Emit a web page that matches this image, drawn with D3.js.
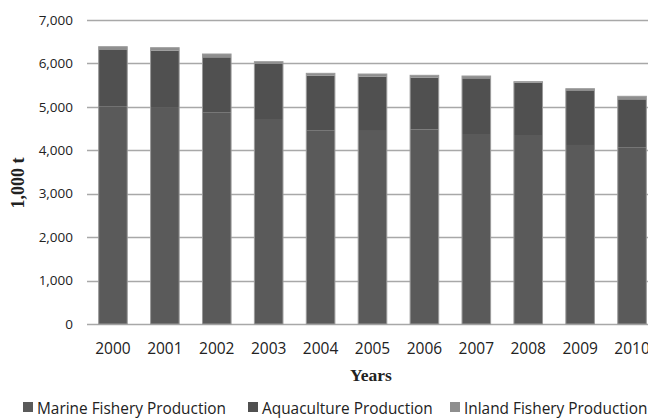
<!DOCTYPE html>
<html><head><meta charset="utf-8">
<script src="https://cdn.jsdelivr.net/npm/d3@7"></script>
<style>html,body{margin:0;padding:0;background:#fff;overflow:hidden}</style>
</head><body>
<svg id="c" width="648" height="419"></svg>
<script>
const years = ["2000","2001","2002","2003","2004","2005","2006","2007","2008","2009","2010"];
const marine = [5004, 4995, 4866, 4720, 4452, 4467, 4480, 4375, 4352, 4122, 4060];
const aquaculture = [1305, 1298, 1275, 1267, 1265, 1228, 1192, 1282, 1205, 1243, 1114];
const inland = [76, 69, 76, 53, 55, 61, 54, 53, 23, 53, 69];
const yTicks = [0, 1000, 2000, 3000, 4000, 5000, 6000, 7000];
const seriesNames = ["Marine Fishery Production", "Aquaculture Production", "Inland Fishery Production"];
const seriesColors = ["#5a5a5a", "#505050", "#8e8e8e"];

const svg = d3.select("#c");
const x = d3.scaleBand().domain(years).range([87, 658]).paddingInner(0.43).paddingOuter(0.215);
const y = d3.scaleLinear().domain([0, 7000]).range([324, 20]);

// gridlines
svg.append("g").selectAll("line").data(yTicks).join("line")
  .attr("x1", 87).attr("x2", 660)
  .attr("y1", d => Math.round(y(d)) + 0.5).attr("y2", d => Math.round(y(d)) + 0.5)
  .attr("stroke", "#a8a8a8").attr("stroke-width", 1.5);

// y tick labels
const fmt = d3.format(",");
svg.append("g").selectAll("text").data(yTicks).join("text")
  .attr("x", 73).attr("y", d => y(d)).attr("dy", "0.35em")
  .attr("text-anchor", "end")
  .attr("font-family", "Open Sans").attr("font-size", 13.5).attr("fill", "#222")
  .text(d => fmt(d));

// stack
const rows = years.map((yr, i) => ({year: yr, m: marine[i], a: aquaculture[i], n: inland[i]}));
const stack = d3.stack().keys(["m", "a", "n"])(rows);
svg.append("g").selectAll("g").data(stack).join("g")
  .attr("fill", (d, i) => seriesColors[i])
  .selectAll("rect").data(d => d).join("rect")
  .attr("x", d => x(d.data.year) + 0.5)
  .attr("width", x.bandwidth() - 1)
  .attr("y", d => y(d[1]))
  .attr("height", d => y(d[0]) - y(d[1]));
// bar outlines
svg.append("g").selectAll("rect").data(rows).join("rect")
  .attr("x", d => x(d.year) + 0.5)
  .attr("width", x.bandwidth() - 1)
  .attr("y", d => y(d.m + d.a + d.n))
  .attr("height", d => y(0) - y(d.m + d.a + d.n))
  .attr("fill", "none").attr("stroke", "#9a9a9a").attr("stroke-width", 1);

// x labels
svg.append("g").selectAll("text").data(years).join("text")
  .attr("x", d => x(d) + x.bandwidth() / 2).attr("y", 354)
  .attr("text-anchor", "middle")
  .attr("font-family", "Open Sans").attr("font-size", 15.5).attr("fill", "#222")
  .text(d => d);

// axis titles
svg.append("text").attr("x", 371).attr("y", 381).attr("text-anchor", "middle")
  .attr("font-family", "Liberation Serif").attr("font-weight", "bold").attr("font-size", 17.5)
  .attr("fill", "#222").text("Years");
svg.append("text").attr("transform", "translate(24,183) rotate(-90)").attr("text-anchor", "middle")
  .attr("font-family", "Liberation Serif").attr("font-weight", "bold").attr("font-size", 18)
  .attr("fill", "#222").text("1,000 t");

// legend
const legX = [23, 248, 450];
const leg = svg.append("g").selectAll("g").data(seriesNames).join("g")
  .attr("transform", (d, i) => `translate(${legX[i]},402)`);
leg.append("rect").attr("width", 10).attr("height", 10).attr("fill", (d, i) => seriesColors[i]);
leg.append("text").attr("x", 14).attr("y", 12)
  .attr("font-family", "Open Sans").attr("font-size", 15.4).attr("fill", "#222")
  .text(d => d);
</script>
</body></html>
